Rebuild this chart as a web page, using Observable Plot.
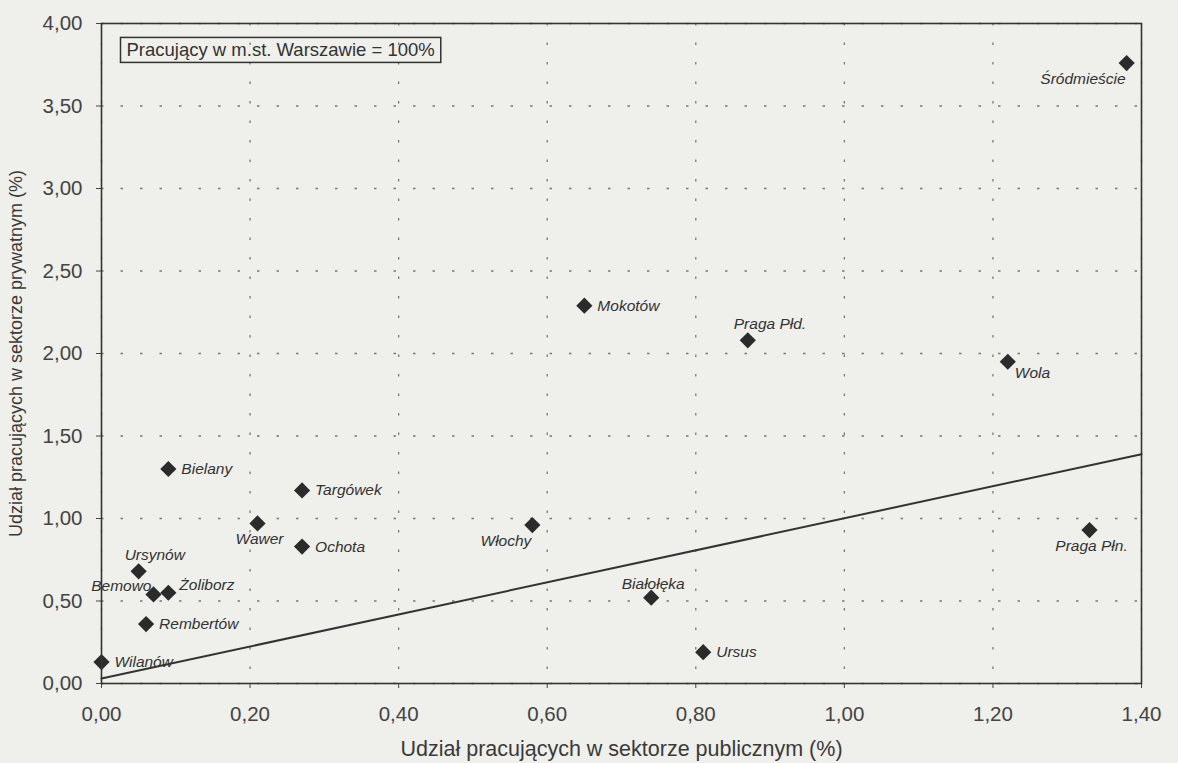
<!DOCTYPE html>
<html><head><meta charset="utf-8">
<script src="https://cdn.jsdelivr.net/npm/d3@7"></script>
<script src="https://cdn.jsdelivr.net/npm/@observablehq/plot@0.6"></script>
<style>
html,body{margin:0;padding:0;background:#efefeb;}
#chart svg{display:block;}
</style></head><body><div id="chart"></div>
<script>
// ---- data ----
const districts = ["Śródmieście","Mokotów","Praga Płd.","Wola","Praga Płn.","Białołęka","Ursus","Włochy","Bielany","Targówek","Wawer","Ochota","Ursynów","Bemowo","Żoliborz","Rembertów","Wilanów"];
const publicShare = [1.38,0.65,0.87,1.22,1.33,0.74,0.81,0.58,0.09,0.27,0.21,0.27,0.05,0.07,0.09,0.06,0.00];
const privateShare = [3.76,2.29,2.08,1.95,0.93,0.52,0.19,0.96,1.30,1.17,0.97,0.83,0.68,0.54,0.55,0.36,0.13];
const labelPlacement = ["bl","r","t","br","b","tc","r","bl","r","r","b","r","t","tl","tr","r","r"];
const trendX = [0, 1.40];
const trendY = [0.03, 1.39];
const xTicks = [0,0.2,0.4,0.6,0.8,1.0,1.2,1.4];
const yTicks = [0,0.5,1.0,1.5,2.0,2.5,3.0,3.5,4.0];
const legendText = "Pracujący w m.st. Warszawie = 100%";
const xTitle = "Udział pracujących w sektorze publicznym (%)";
const yTitle = "Udział pracujących w sektorze prywatnym (%)";

// ---- tables ----
const points = districts.map((d,i)=>({name:d, x:publicShare[i], y:privateShare[i], pos:labelPlacement[i]}));
const trend = trendX.map((x,i)=>({x, y:trendY[i]}));
const fmt = v => d3.format(".2f")(v).replace(".", ",");

const placements = {
  r:  {dx:13, dy:0, textAnchor:"start"},
  l:  {dx:-10, dy:0, textAnchor:"end"},
  t:  {dx:-14, dy:-16, textAnchor:"start"},
  tc: {dx:2, dy:-14, textAnchor:"middle"},
  b:  {dx:2, dy:16, textAnchor:"middle"},
  bl: {dx:-1, dy:16, textAnchor:"end"},
  br: {dx:7, dy:11, textAnchor:"start"},
  tl: {dx:-2, dy:-8, textAnchor:"end"},
  tr: {dx:11, dy:-8, textAnchor:"start"}
};
const labelMarks = Object.entries(placements).map(([k,o]) =>
  Plot.text(points.filter(p=>p.pos===k), {x:"x", y:"y", text:"name", ...o,
    fontSize:15.5, fontStyle:"italic", fill:"#333"}));

const chart = Plot.plot({
  width:1178, height:763,
  marginLeft:101, marginRight:37, marginTop:23, marginBottom:80,
  style:{fontFamily:"'Liberation Sans', Arial, sans-serif", background:"#efefeb", color:"#444", overflow:"visible"},
  x:{domain:[0,1.4]},
  y:{domain:[0,4]},
  marks:[
    Plot.gridX(xTicks, {stroke:"#777", strokeOpacity:1, strokeWidth:1.3, strokeDasharray:"2.5,17"}),
    Plot.gridY(yTicks, {stroke:"#777", strokeOpacity:1, strokeWidth:1.3, strokeDasharray:"2.5,17"}),
    Plot.axisX({ticks:xTicks, tickFormat:fmt, tickSize:5, tickPadding:18, fontSize:20.5,
      label:xTitle, labelAnchor:"center", labelArrow:"none", labelOffset:72}),
    Plot.axisY({ticks:yTicks, tickFormat:fmt, tickSize:5, tickPadding:14, fontSize:20.5,
      label:yTitle, labelAnchor:"center", labelArrow:"none", labelOffset:92}),
    Plot.line(trend, {x:"x", y:"y", stroke:"#333", strokeWidth:2}),
    Plot.dot(points, {x:"x", y:"y", symbol:"diamond2", r:7.3, fill:"#2b2b2b", stroke:"none"}),
    ...labelMarks,
    Plot.text([legendText], {frameAnchor:"top-left", dx:25, dy:27, textAnchor:"start", lineAnchor:"middle",
      fontSize:18.5, fill:"#333"}),
    Plot.frame({stroke:"#333", strokeWidth:1.6})
  ]
});
document.getElementById("chart").appendChild(chart);

// box around the legend note
const legendNode = d3.select(chart).selectAll("text").filter(function(){return this.textContent===legendText;}).node();
if (legendNode) {
  const bb = legendNode.getBBox();
  d3.select(legendNode.parentNode).insert("rect", ":first-child")
    .attr("x", bb.x - 6).attr("y", bb.y - 2)
    .attr("width", bb.width + 12).attr("height", bb.height + 4)
    .attr("transform", legendNode.getAttribute("transform"))
    .attr("fill", "none").attr("stroke", "#333").attr("stroke-width", 1.5);
}
// axis titles
const sel = d3.select(chart).selectAll("text");
sel.filter(function(){return this.textContent===xTitle;}).attr("font-size", 21.5).attr("fill", "#3a3a3a");
sel.filter(function(){return this.textContent===yTitle;}).attr("font-size", 18).attr("fill", "#3a3a3a");
</script>
</body></html>
